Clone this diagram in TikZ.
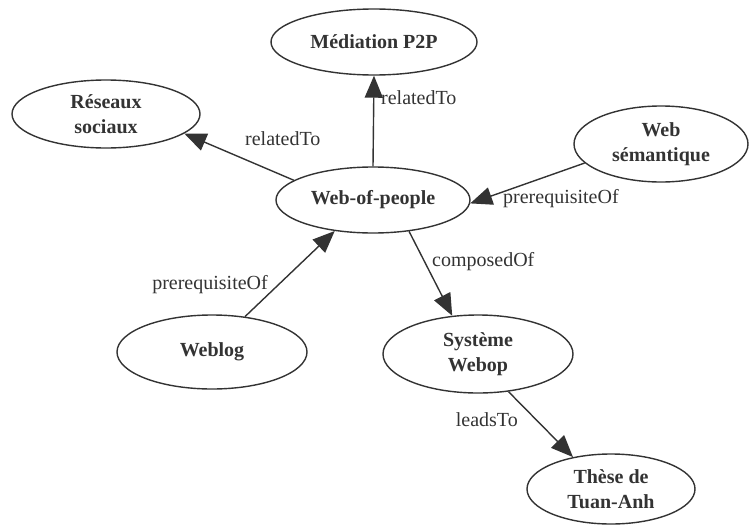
\documentclass[tikz,border=0pt]{standalone}
\usepackage{fontspec}
\setmainfont{Liberation Serif}
\newfontfamily\libser{Liberation Serif}
\usetikzlibrary{shapes.geometric,arrows.meta}
\definecolor{ink}{HTML}{333333}
\tikzset{
  concept/.style={ellipse, draw=ink, line width=1.4pt, inner sep=0pt, align=center,
    text=ink, font=\libser\fontsize{20}{25}\selectfont\bfseries},
  rel/.style={text=ink, font=\libser\fontsize{20}{24}\selectfont, inner sep=0pt},
  link/.style={draw=ink, line width=1.4pt, -{Triangle[length=22pt,width=18pt]}}
}
\begin{document}
\begin{tikzpicture}[x=1pt,y=-1pt]
\useasboundingbox (0,0) rectangle (749,525);
\node[concept, minimum width=206pt, minimum height=66pt] (med) at (374,42) {Médiation P2P};
\node[concept, minimum width=188pt, minimum height=68pt] (rs) at (106,114) {Réseaux\\sociaux};
\node[concept, minimum width=174pt, minimum height=76pt] (ws) at (661,144) {Web\\sémantique};
\node[concept, minimum width=194pt, minimum height=66pt] (wop) at (373,200) {Web-of-people};
\node[concept, minimum width=190pt, minimum height=74pt] (wb) at (212,352) {Weblog};
\node[concept, minimum width=190pt, minimum height=78pt] (sw) at (478,354) {Système\\Webop};
\node[concept, minimum width=168pt, minimum height=70pt] (th) at (611,489) {Thèse de\\Tuan-Anh};

\draw[link] (wop.north) -- (med.south);
\draw[link] (wop.166) -- (rs.-14);
\draw[link] (ws.194) -- (wop.-2);
\draw[link] (wb.47) -- (wop.219);
\draw[link] (wop.-41) -- (sw.124);
\draw[link] (sw.-51) -- (th.140);

\node[rel, anchor=west] (l1) at (381,98) {relatedTo};
\node[rel, anchor=west] (l2) at (245,139) {relatedTo};
\node[rel, anchor=west] (l3) at (503,199) {prerequisiteOf};
\node[rel, anchor=east] (l4) at (268,285) {prerequisiteOf};
\node[rel, anchor=west] (l5) at (432,262) {composedOf};
\node[rel, anchor=east] (l6) at (518,420) {leadsTo};
\end{tikzpicture}
\end{document}
